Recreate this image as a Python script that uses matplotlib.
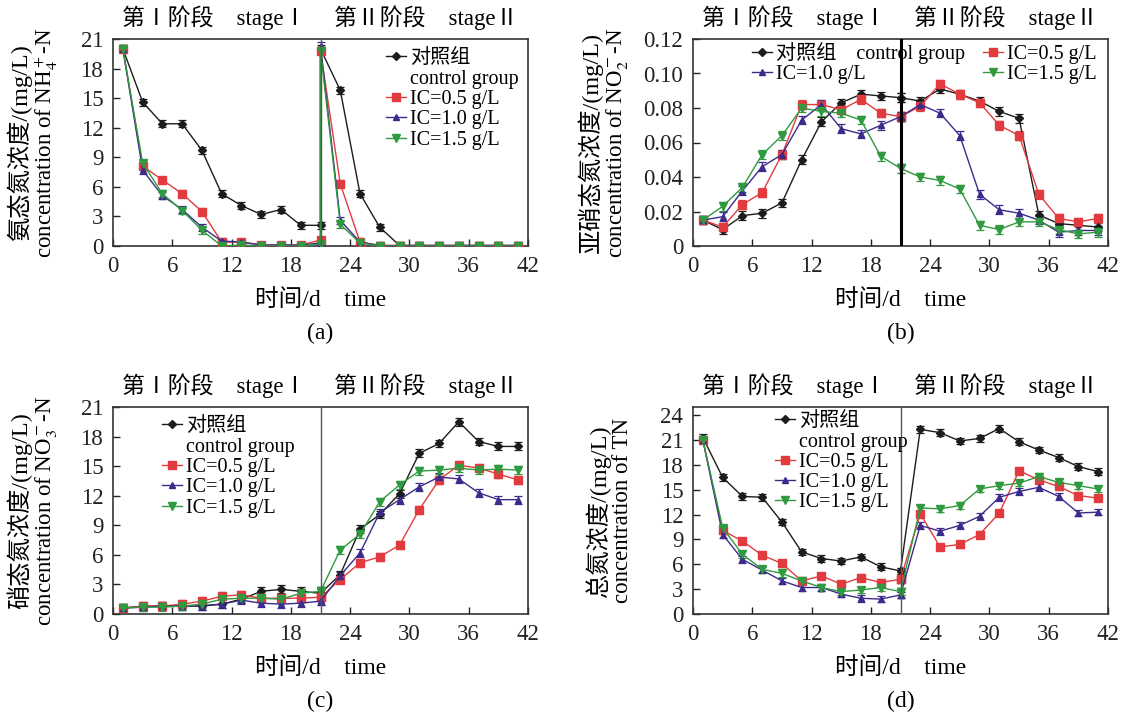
import matplotlib
matplotlib.use("Agg")
import matplotlib.pyplot as plt
from matplotlib.lines import Line2D

plt.rcParams['font.family'] = ['Liberation Serif', 'Noto Sans CJK SC']
plt.rcParams['mathtext.fontset'] = 'stix'

# ---------------- data ----------------
days = [1, 3, 5, 7, 9, 11, 13, 15, 17, 19, 21,
        21, 23, 25, 27, 29, 31, 33, 35, 37, 39, 41]

# (a) NH4+-N
a_ctrl = [20.0, 14.6, 12.4, 12.4, 9.7, 5.3, 4.1, 3.2, 3.7, 2.1, 2.1,
          20.0, 15.8, 5.3, 1.9, 0.05, 0.05, 0.05, 0.05, 0.05, 0.05, 0.05]
a_ic05 = [20.0, 8.1, 6.7, 5.3, 3.5, 0.4, 0.4, 0.1, 0.1, 0.1, 0.6,
          19.8, 6.3, 0.4, 0.05, 0.05, 0.05, 0.05, 0.05, 0.05, 0.05, 0.05]
a_ic10 = [20.0, 7.7, 5.1, 3.7, 1.9, 0.5, 0.4, 0.1, 0.1, 0.1, 0.3,
          20.3, 2.6, 0.4, 0.05, 0.05, 0.05, 0.05, 0.05, 0.05, 0.05, 0.05]
a_ic15 = [20.0, 8.4, 5.3, 3.6, 1.6, 0.0, 0.1, 0.0, 0.0, 0.0, 0.2,
          19.8, 2.2, 0.3, 0.0, 0.0, 0.0, 0.0, 0.0, 0.0, 0.0, 0.0]

# (b) NO2--N
b_ctrl = [0.015, 0.0095, 0.0176, 0.019, 0.025, 0.050, 0.072, 0.083, 0.088, 0.087, 0.086,
          0.086, 0.084, 0.091, 0.088, 0.084, 0.078, 0.074, 0.018, 0.013, 0.012, 0.011]
b_ic05 = [0.015, 0.011, 0.024, 0.031, 0.053, 0.082, 0.082, 0.079, 0.085, 0.077, 0.075,
          0.075, 0.081, 0.094, 0.088, 0.083, 0.070, 0.064, 0.030, 0.016, 0.014, 0.016]
b_ic10 = [0.015, 0.017, 0.032, 0.046, 0.053, 0.073, 0.082, 0.068, 0.065, 0.070, 0.075,
          0.075, 0.082, 0.077, 0.064, 0.030, 0.021, 0.019, 0.015, 0.008, 0.009, 0.009]
b_ic15 = [0.015, 0.023, 0.034, 0.053, 0.064, 0.080, 0.078, 0.077, 0.073, 0.052, 0.045,
          0.045, 0.040, 0.038, 0.033, 0.012, 0.0095, 0.014, 0.014, 0.0095, 0.007, 0.008]

# (c) NO3--N
c_ctrl = [0.6, 0.8, 0.8, 0.8, 0.8, 1.0, 1.5, 2.3, 2.5, 2.3, 2.1,
          2.1, 4.0, 8.6, 10.1, 12.2, 16.3, 17.3, 19.5, 17.5, 17.0, 17.0]
c_ic05 = [0.6, 0.8, 0.8, 1.0, 1.3, 1.8, 1.95, 1.6, 1.6, 1.6, 1.7,
          1.7, 3.5, 5.2, 5.8, 7.0, 10.6, 13.6, 15.1, 14.8, 14.2, 13.6]
c_ic10 = [0.6, 0.7, 0.8, 0.8, 0.85, 1.0, 1.4, 1.1, 1.0, 1.1, 1.3,
          1.3, 3.9, 6.2, 10.3, 11.6, 12.9, 13.9, 13.7, 12.3, 11.6, 11.6]
c_ic15 = [0.6, 0.7, 0.7, 0.8, 1.0, 1.5, 1.6, 1.6, 1.5, 2.1, 2.3,
          2.3, 6.5, 8.1, 11.4, 13.1, 14.5, 14.6, 14.8, 14.6, 14.7, 14.6]

# (d) TN
d_ctrl = [21.3, 16.5, 14.2, 14.1, 11.1, 7.5, 6.7, 6.4, 6.9, 5.7, 5.2,
          5.2, 22.3, 21.9, 20.9, 21.2, 22.4, 20.8, 19.8, 18.9, 17.8, 17.2]
d_ic05 = [21.0, 10.1, 8.8, 7.1, 6.1, 4.0, 4.6, 3.6, 4.4, 3.8, 4.2,
          4.2, 12.1, 8.1, 8.4, 9.6, 12.2, 17.3, 16.2, 15.4, 14.3, 14.0]
d_ic10 = [21.0, 9.6, 6.6, 5.3, 4.0, 3.2, 3.2, 2.4, 1.9, 1.8, 2.3,
          2.3, 10.7, 10.0, 10.7, 11.8, 14.1, 14.8, 15.3, 14.2, 12.2, 12.3]
d_ic15 = [21.0, 10.4, 7.2, 5.4, 4.9, 4.0, 3.2, 2.7, 2.9, 3.2, 2.7,
          2.7, 12.8, 12.7, 13.1, 15.1, 15.5, 15.8, 16.6, 15.9, 15.5, 15.1]

labels = ["对照组", "IC=0.5 g/L", "IC=1.0 g/L", "IC=1.5 g/L"]
xticks = [0, 6, 12, 18, 24, 30, 36, 42]

# ---------------- styles ----------------
colors = ['#1c1c1c', '#e23b3f', '#3b2c8c', '#2f9a3f']
markers = ['D', 's', '^', 'v']
msizes = [4.5, 5.5, 5, 5.5]
FS_TICK = 16.5
FS_HEAD = 16.5
FS_XLAB = 17
FS_YLAB1 = 17.5
FS_YLAB2 = 16.5
FS_LEG = 14.5

fig = plt.figure(figsize=(11.26, 7.15), dpi=100)
W, H = 1126, 715


def make_ax(l, t, r, b):
    return fig.add_axes([l / W, 1 - b / H, (r - l) / W, (b - t) / H])


axes_px = {
    'a': (113, 39, 528, 246),
    'b': (693, 39, 1108, 246),
    'c': (113, 407, 528, 614),
    'd': (693, 407, 1108, 614),
}
ylab_x = {'a': (19, 46), 'b': (590, 617), 'c': (19, 46), 'd': (598, 623)}

panels = {
    'a': dict(series=[a_ctrl, a_ic05, a_ic10, a_ic15], ylim=(0, 21), yticks=[0, 3, 6, 9, 12, 15, 18, 21],
              ytl=None, err=0.35, ylab1="氨态氮浓度/(mg/L)", ylab2=r"concentration of NH$_4^+$-N",
              vl=dict(color='#555555', lw=1.0)),
    'b': dict(series=[b_ctrl, b_ic05, b_ic10, b_ic15], ylim=(0, 0.12),
              yticks=[0, 0.02, 0.04, 0.06, 0.08, 0.10, 0.12],
              ytl=["0", "0.02", "0.04", "0.06", "0.08", "0.10", "0.12"], err=0.0025,
              ylab1="亚硝态氮浓度/(mg/L)", ylab2=r"concentration of NO$_2^-$-N",
              vl=dict(color='black', lw=2.2)),
    'c': dict(series=[c_ctrl, c_ic05, c_ic10, c_ic15], ylim=(0, 21), yticks=[0, 3, 6, 9, 12, 15, 18, 21],
              ytl=None, err=0.4, ylab1="硝态氮浓度/(mg/L)", ylab2=r"concentration of NO$_3^-$-N",
              vl=dict(color='#555555', lw=1.0)),
    'd': dict(series=[d_ctrl, d_ic05, d_ic10, d_ic15], ylim=(0, 25), yticks=[0, 3, 6, 9, 12, 15, 18, 21, 24],
              ytl=None, err=0.4, ylab1="总氮浓度/(mg/L)", ylab2="concentration of TN",
              vl=dict(color='#555555', lw=1.0)),
}

for key, p in panels.items():
    l, t, r, b = axes_px[key]
    ax = make_ax(l, t, r, b)
    handles = []
    for s, c, m, ms, lab in zip(p['series'], colors, markers, msizes, labels):
        ax.errorbar(days, s, yerr=p['err'], color=c, marker=m, ms=ms, lw=1.0,
                    elinewidth=0.9, capsize=3, capthick=0.9, zorder=3)
        handles.append(Line2D([], [], color=c, marker=m, ms=ms, lw=1.0))
    ax.axvline(21, zorder=4, **p['vl'])
    ax.set_xlim(0, 42)
    ax.set_ylim(*p['ylim'])
    ax.set_xticks(xticks)
    ax.set_yticks(p['yticks'])
    if p['ytl']:
        ax.set_yticklabels(p['ytl'])
    ax.tick_params(direction='in', length=5, width=1.0, labelsize=FS_TICK, colors='#222222', pad=7)
    for sp in ax.spines.values():
        sp.set_linewidth(1.2)
        sp.set_color('#333333')

    # stage headers
    head_y = 1 - (t - 21) / H
    fig.text((l + 10.2 * (r - l) / 42) / W, head_y, "第Ⅰ阶段    stageⅠ",
             ha='center', va='center', fontsize=FS_HEAD)
    fig.text((l + 31.7 * (r - l) / 42) / W, head_y, "第Ⅱ阶段    stageⅡ",
             ha='center', va='center', fontsize=FS_HEAD)

    # y labels (two lines)
    yc = 1 - ((t + b) / 2) / H
    x1, x2 = ylab_x[key]
    fig.text(x1 / W, yc, p['ylab1'], rotation=90, ha='center', va='center', fontsize=FS_YLAB1)
    fig.text(x2 / W, yc, p['ylab2'], rotation=90, ha='center', va='center', fontsize=FS_YLAB2)

    # x label and panel letter
    xc = ((l + r) / 2) / W
    fig.text(xc, 1 - (b + 54) / H, "时间/d    time", ha='center', va='center', fontsize=FS_XLAB)
    fig.text(xc, 1 - (b + 87) / H, f"({key})", ha='center', va='center', fontsize=FS_XLAB)

    blank = Line2D([], [], lw=0, marker=None, alpha=0)
    lkw = dict(frameon=False, fontsize=FS_LEG, handlelength=1.0, handletextpad=0.2,
               borderpad=0, borderaxespad=0, labelspacing=0.06, loc='upper left')
    if key == 'b':
        hb = [handles[0], handles[2], handles[1], handles[3]]
        lb = ["对照组    control group", labels[2], labels[1], labels[3]]
        ax.legend(hb, lb, ncol=2, columnspacing=0.9, bbox_to_anchor=(0.142, 0.985), **lkw)
    else:
        hl = [handles[0], blank, handles[1], handles[2], handles[3]]
        ll = [labels[0], "control group", labels[1], labels[2], labels[3]]
        anchor = {'a': (0.658, 0.95), 'c': (0.118, 0.95), 'd': (0.198, 0.975)}[key]
        ax.legend(hl, ll, bbox_to_anchor=anchor, **lkw)

fig.savefig("out.png", dpi=100)
